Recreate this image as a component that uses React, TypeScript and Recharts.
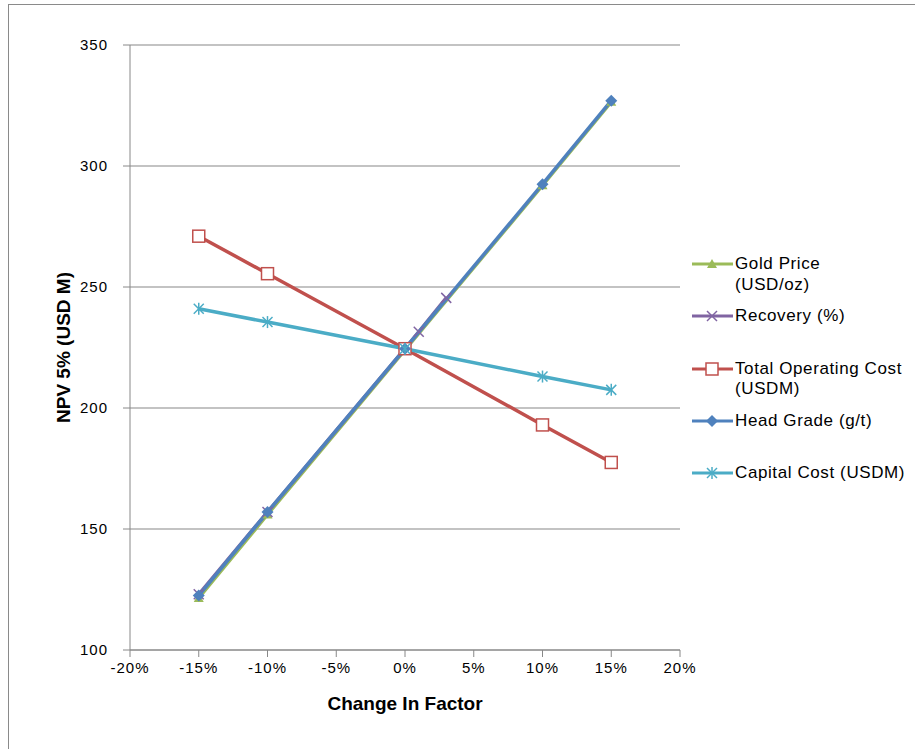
import { LineChart, Line, XAxis, YAxis, CartesianGrid } from 'recharts';

const factors = [-0.15, -0.1, 0, 0.1, 0.15];
const recoveryFactors = [-0.15, -0.1, 0, 0.01, 0.03];

const goldPrice = [121.5, 156, 224, 292, 326.5];
const recovery = [123, 157, 224.5, 231.5, 245.5];
const totalOpCost = [271, 255.5, 224.5, 193, 177.5];
const headGrade = [122.5, 157, 224.5, 292.5, 327];
const capitalCost = [241, 235.5, 224.5, 213, 207.5];

const xTicks = [-0.2, -0.15, -0.1, -0.05, 0, 0.05, 0.1, 0.15, 0.2];
const yTicks = [100, 150, 200, 250, 300, 350];

const toPoints = (xs: number[], ys: number[]) => xs.map((x, i) => ({ x, y: ys[i] }));

const GREEN = '#9BBB59';
const PURPLE = '#8064A2';
const RED = '#C0504D';
const BLUE = '#4F81BD';
const CYAN = '#4BACC6';
const GRID = '#888888';

type Shape = 'triangle' | 'cross' | 'square' | 'diamond' | 'star';

function Marker({ cx, cy, shape, color }: { cx: number; cy: number; shape: Shape; color: string }) {
  if (cx == null || cy == null) return null;
  switch (shape) {
    case 'triangle':
      return <polygon points={`${cx},${cy - 5} ${cx + 5},${cy + 4} ${cx - 5},${cy + 4}`} fill={color} />;
    case 'cross':
      return (
        <g stroke={color} strokeWidth={1.5}>
          <line x1={cx - 5} y1={cy - 5} x2={cx + 5} y2={cy + 5} />
          <line x1={cx - 5} y1={cy + 5} x2={cx + 5} y2={cy - 5} />
        </g>
      );
    case 'square':
      return <rect x={cx - 6} y={cy - 6} width={12} height={12} fill="#fff" stroke={color} strokeWidth={1.5} />;
    case 'diamond':
      return <polygon points={`${cx},${cy - 6} ${cx + 6},${cy} ${cx},${cy + 6} ${cx - 6},${cy}`} fill={color} />;
    case 'star':
      return (
        <g stroke={color} strokeWidth={1.5}>
          <line x1={cx - 5} y1={cy - 5} x2={cx + 5} y2={cy + 5} />
          <line x1={cx - 5} y1={cy + 5} x2={cx + 5} y2={cy - 5} />
          <line x1={cx} y1={cy - 6} x2={cx} y2={cy + 6} />
        </g>
      );
  }
  return null;
}

const series = [
  { name: 'Gold Price', lines: ['Gold Price', '(USD/oz)'], data: toPoints(factors, goldPrice), color: GREEN, shape: 'triangle' as Shape },
  { name: 'Recovery (%)', lines: ['Recovery (%)'], data: toPoints(recoveryFactors, recovery), color: PURPLE, shape: 'cross' as Shape },
  { name: 'Total Operating Cost', lines: ['Total Operating Cost', '(USDM)'], data: toPoints(factors, totalOpCost), color: RED, shape: 'square' as Shape },
  { name: 'Head Grade (g/t)', lines: ['Head Grade (g/t)'], data: toPoints(factors, headGrade), color: BLUE, shape: 'diamond' as Shape },
  { name: 'Capital Cost (USDM)', lines: ['Capital Cost (USDM)'], data: toPoints(factors, capitalCost), color: CYAN, shape: 'star' as Shape },
];

const fontFamily = '"Liberation Sans", Arial, sans-serif';

function LegendBox() {
  return (
    <div style={{ position: 'absolute', left: 692, top: 254, width: 230, fontFamily, fontSize: 17, letterSpacing: 0.6, color: '#000' }}>
      {series.map((s) => (
        <div key={s.name} style={{ height: 52.3, display: 'flex', alignItems: 'flex-start' }}>
          <svg width={43} height={20} style={{ flex: 'none' }}>
            <line x1={0} y1={10} x2={41} y2={10} stroke={s.color} strokeWidth={3} />
            <Marker cx={20} cy={10} shape={s.shape} color={s.color} />
          </svg>
          <div style={{ lineHeight: '20.5px' }}>
            {s.lines.map((l) => (
              <div key={l}>{l}</div>
            ))}
          </div>
        </div>
      ))}
    </div>
  );
}

const pct = (v: number) => `${Math.round(v * 100)}%`;

export default function App() {
  return (
    <div style={{ position: 'absolute', left: 0, top: 0, width: 915, height: 749, background: '#fff', overflow: 'hidden' }}>
      <div style={{ position: 'absolute', left: 8, top: 4, width: 1000, height: 1000, border: '1.5px solid #8a8a8a', boxSizing: 'border-box' }} />
      <LineChart width={915} height={749} margin={{ top: 45, right: 235, bottom: 29, left: 0 }} style={{ position: 'absolute', left: 0, top: 0 }}>
        <CartesianGrid horizontal vertical={false} stroke={GRID} strokeWidth={1.2} />
        <XAxis
          type="number"
          dataKey="x"
          domain={[-0.2, 0.2]}
          ticks={xTicks}
          tickFormatter={pct}
          allowDataOverflow
          height={70}
          stroke={GRID}
          tickSize={7}
          tickMargin={5}
          tick={{ fill: '#000', fontSize: 15, fontFamily, letterSpacing: 1 }}
          label={{ value: 'Change In Factor', position: 'insideBottom', offset: 10, fill: '#000', fontSize: 19, fontWeight: 'bold', fontFamily }}
        />
        <YAxis
          type="number"
          dataKey="y"
          domain={[100, 350]}
          ticks={yTicks}
          width={130}
          stroke={GRID}
          tickSize={7}
          tickMargin={15}
          tick={{ fill: '#000', fontSize: 15, fontFamily, letterSpacing: 1 }}
          label={(props: any) => {
            const vb = props.viewBox || { x: 0, y: 45, height: 605 };
            const cx = 63;
            const cy = vb.y + vb.height / 2;
            return (
              <text x={cx} y={cy} transform={`rotate(-90 ${cx} ${cy})`} textAnchor="middle" dominantBaseline="central" fontSize={19} fontWeight="bold" fontFamily={fontFamily} fill="#000">
                NPV 5% (USD M)
              </text>
            );
          }}
        />
        {series.map((s) => (
          <Line
            key={s.name}
            name={s.name}
            data={s.data}
            dataKey="y"
            type="linear"
            stroke={s.color}
            strokeWidth={3.5}
            isAnimationActive={false}
            dot={(p: any) => <Marker key={`${s.name}-${p.index}`} cx={p.cx} cy={p.cy} shape={s.shape} color={s.color} />}
            activeDot={false}
          />
        ))}
      </LineChart>
      <LegendBox />
    </div>
  );
}
